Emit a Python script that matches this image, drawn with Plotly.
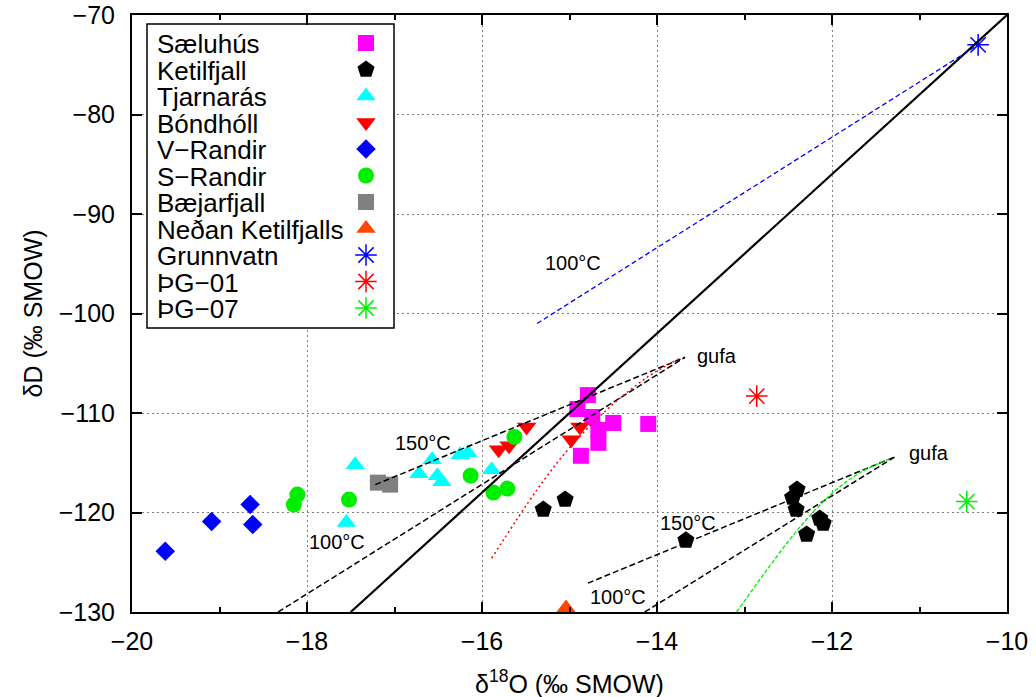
import plotly.graph_objects as go

# ---------------- data ----------------
saeluhus_x = [-14.79, -14.91, -14.74, -14.50, -14.10, -14.67, -14.67, -14.87]
saeluhus_y = [-108.2, -109.6, -110.4, -111.0, -111.1, -111.7, -113.0, -114.3]

ketilfjall_x = [-15.30, -15.05, -13.67, -12.40, -12.45, -12.41, -12.14, -12.10, -12.29]
ketilfjall_y = [-119.7, -118.7, -122.8, -117.7, -118.5, -119.7, -120.6, -121.1, -122.2]

tjarnaras_x = [-17.45, -17.55, -16.72, -16.57, -16.51, -16.46, -16.25, -16.16, -15.89]
tjarnaras_y = [-115.2, -121.0, -116.1, -114.7, -116.3, -116.9, -114.2, -114.0, -115.7]

bondholl_x = [-15.49, -15.81, -15.69, -14.88, -14.98]
bondholl_y = [-111.4, -113.7, -113.3, -111.4, -112.7]

vrandir_x = [-19.62, -19.09, -18.65, -18.62]
vrandir_y = [-123.9, -120.9, -119.2, -121.2]

srandir_x = [-18.11, -18.15, -17.52, -15.63, -16.13, -15.87, -15.71]
srandir_y = [-118.2, -119.2, -118.7, -112.4, -116.3, -118.0, -117.6]

baejarfjall_x = [-17.19, -17.05]
baejarfjall_y = [-117.0, -117.2]

nedan_x = [-15.04]
nedan_y = [-129.6]

grunnvatn_x = [-10.33]
grunnvatn_y = [-73.0]

pg01_x = [-12.86]
pg01_y = [-108.3]

pg07_x = [-10.46]
pg07_y = [-118.9]

# lines
gmwl_x = [-17.5, -10.0]
gmwl_y = [-130.0, -70.0]

blue_mix_x = [-15.37, -10.33]
blue_mix_y = [-101.0, -73.0]

up150_x = [-17.22, -13.68]
up150_y = [-117.2, -104.4]

up100_x = [-18.33, -13.68]
up100_y = [-130.0, -104.4]

red_curve_x = [-15.89, -15.37, -14.99, -14.54, -14.11, -13.74]
red_curve_y = [-124.6, -117.7, -113.4, -109.4, -106.4, -104.5]

low150_x = [-14.79, -11.28]
low150_y = [-127.1, -114.4]

low100_x = [-14.14, -11.28]
low100_y = [-130.0, -114.4]

green_curve_x = [-13.09, -12.73, -12.37, -11.99, -11.68, -11.34]
green_curve_y = [-130.0, -125.6, -121.5, -118.0, -116.0, -114.6]

# text labels: (text, x, y, anchor)
labels = [
    ("100°C", -14.96, -94.9, "center"),
    ("gufa", -13.57, -104.3, "left"),
    ("150°C", -16.67, -113.0, "center"),
    ("100°C", -17.66, -123.0, "center"),
    ("gufa", -11.14, -114.0, "left"),
    ("150°C", -13.65, -121.1, "center"),
    ("100°C", -14.45, -128.5, "center"),
]

x_title = "δ<sup>18</sup>O (‰ SMOW)"
y_title = "δD (‰ SMOW)"

FONT = "Liberation Sans, Arial, Helvetica, sans-serif"
X_RANGE = [-20, -10]
Y_RANGE = [-130, -70]

series = [
    ("Sæluhús", saeluhus_x, saeluhus_y, "square", "#ff00ff", 16),
    ("Ketilfjall", ketilfjall_x, ketilfjall_y, "pentagon", "#000000", 18),
    ("Tjarnarás", tjarnaras_x, tjarnaras_y, "triangle-up", "#00ffff", 17),
    ("Bóndhóll", bondholl_x, bondholl_y, "triangle-down", "#ff0000", 17),
    ("V−Randir", vrandir_x, vrandir_y, "diamond", "#0000ff", 15),
    ("S−Randir", srandir_x, srandir_y, "circle", "#00ee00", 16),
    ("Bæjarfjall", baejarfjall_x, baejarfjall_y, "square", "#808080", 16),
    ("Neðan Ketilfjalls", nedan_x, nedan_y, "triangle-up", "#ff4500", 17),
    ("Grunnvatn", grunnvatn_x, grunnvatn_y, "asterisk-open", "#0000ff", 18),
    ("ÞG−01", pg01_x, pg01_y, "asterisk-open", "#ff0000", 18),
    ("ÞG−07", pg07_x, pg07_y, "asterisk-open", "#00ee00", 18),
]

fig = go.Figure()

def marker_for(sym, col, size):
    if sym.endswith("open"):
        return dict(symbol=sym, size=size, color=col, line=dict(width=1.5, color=col))
    return dict(symbol=sym, size=size, color=col, line=dict(width=0))

for name, xs, ys, sym, col, size in series:
    fig.add_trace(go.Scatter(x=xs, y=ys, mode="markers", name=name,
                             marker=marker_for(sym, col, size), showlegend=False))

line_specs = [
    (gmwl_x, gmwl_y, "#000000", 2.2, "solid"),
    (blue_mix_x, blue_mix_y, "#0000ff", 1.3, "5px,3px"),
    (up150_x, up150_y, "#000000", 1.5, "6px,3px"),
    (up100_x, up100_y, "#000000", 1.5, "6px,3px"),
    (red_curve_x, red_curve_y, "#ff0000", 1.5, "2px,3px"),
    (low150_x, low150_y, "#000000", 1.5, "6px,3px"),
    (low100_x, low100_y, "#000000", 1.5, "6px,3px"),
    (green_curve_x, green_curve_y, "#00ee00", 1.3, "4px,2px"),
]
for xs, ys, col, w, dash in line_specs:
    fig.add_trace(go.Scatter(x=xs, y=ys, mode="lines", line=dict(color=col, width=w, dash=dash,
                             shape="spline" if len(xs) > 2 else "linear"),
                             showlegend=False, hoverinfo="skip"))

annotations = []
for txt, x, y, anchor in labels:
    annotations.append(dict(text=txt, x=x, y=y, xref="x", yref="y", showarrow=False,
                            xanchor=anchor, yanchor="middle",
                            font=dict(family=FONT, size=20, color="black")))

# axis titles
annotations.append(dict(text=x_title, x=0.5, y=0, xref="paper", yref="paper", yshift=-70,
                        showarrow=False, xanchor="center", yanchor="middle",
                        font=dict(family=FONT, size=25, color="black")))
annotations.append(dict(text=y_title, x=0, y=0.5, xref="paper", yref="paper", xshift=-100,
                        textangle=-90, showarrow=False, xanchor="center", yanchor="middle",
                        font=dict(family=FONT, size=25, color="black")))

# ---------------- manual legend (gnuplot style: text left, symbol right) ----------------
PX_L, PX_R, PX_T, PX_B = 132, 1007, 15, 612
LEG_X0, LEG_X1, LEG_Y0, LEG_Y1 = 147, 394, 24, 328
LEG_TEXT_X, LEG_SYM_X, LEG_ROW0, LEG_DY = 155, 366, 43, 26.5

def px2x(px):
    return X_RANGE[0] + (px - PX_L) / (PX_R - PX_L) * (X_RANGE[1] - X_RANGE[0])

def px2y(py):
    return Y_RANGE[1] - (py - PX_T) / (PX_B - PX_T) * (Y_RANGE[1] - Y_RANGE[0])

for i, (name, xs, ys, sym, col, size) in enumerate(series):
    ry = LEG_ROW0 + i * LEG_DY
    fig.add_trace(go.Scatter(x=[px2x(LEG_SYM_X)], y=[px2y(ry)], mode="markers",
                             marker=marker_for(sym, col, size), showlegend=False,
                             hoverinfo="skip"))
    annotations.append(dict(text=name, x=px2x(LEG_TEXT_X), y=px2y(ry + 1), xref="x", yref="y",
                            showarrow=False, xanchor="left", yanchor="middle",
                            font=dict(family=FONT, size=26, color="black")))

fig.add_shape(type="rect", xref="x", yref="y",
              x0=px2x(LEG_X0), x1=px2x(LEG_X1), y0=px2y(LEG_Y0), y1=px2y(LEG_Y1),
              line=dict(color="black", width=1.5), fillcolor="white", layer="between")

fig.update_layout(
    width=1036, height=697,
    margin=dict(l=PX_L, r=1036 - PX_R, t=PX_T, b=697 - PX_B, autoexpand=False),
    paper_bgcolor="white", plot_bgcolor="white",
    font=dict(family=FONT, size=25, color="black"),
    annotations=annotations,
    xaxis=dict(range=X_RANGE, dtick=2, tick0=-20, ticks="inside", ticklen=10, tickwidth=1.5,
               tickcolor="black", showline=True, linecolor="black", linewidth=2, mirror="ticks",
               showgrid=True, gridcolor="#808080", gridwidth=1, griddash="2px,3px",
               zeroline=False, tickfont=dict(size=25), ticklabelstandoff=6, automargin=False,
               minor=dict(dtick=1, ticks="inside", ticklen=5, tickcolor="black", tickwidth=1.5,
                          showgrid=False)),
    yaxis=dict(range=Y_RANGE, dtick=10, ticks="inside", ticklen=10, tickwidth=1.5,
               tickcolor="black", showline=True, linecolor="black", linewidth=2, mirror="ticks",
               showgrid=True, gridcolor="#808080", gridwidth=1, griddash="2px,3px",
               zeroline=False, tickfont=dict(size=25), ticklabelstandoff=10, automargin=False),
    showlegend=False,
)

fig.write_html("out.html")
